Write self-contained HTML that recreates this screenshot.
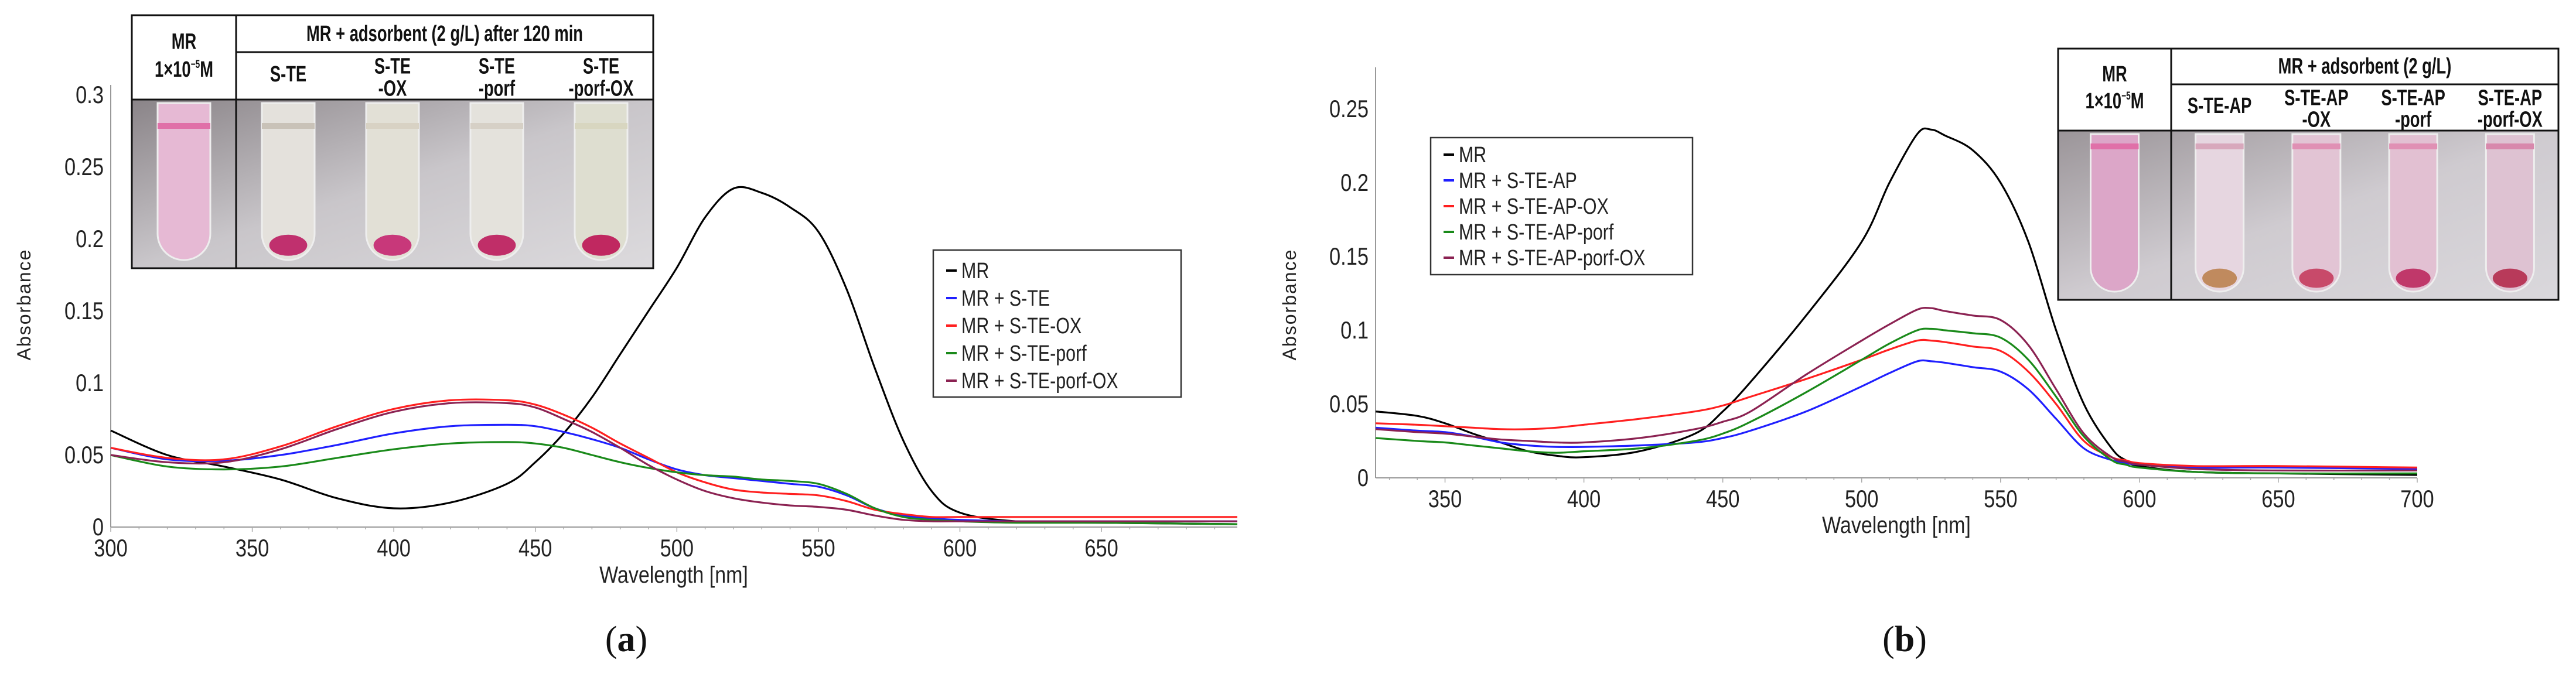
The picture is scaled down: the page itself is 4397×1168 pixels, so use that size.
<!DOCTYPE html>
<html><head><meta charset="utf-8"><style>
html,body{margin:0;padding:0;background:#fff;}
svg{display:block;font-family:"Liberation Sans",sans-serif;}
</style></head><body>
<svg id="fig" width="4397" height="1168" viewBox="0 0 4397 1168" xmlns="http://www.w3.org/2000/svg">
<defs>
<linearGradient id="bgA" x1="0" y1="0" x2="1" y2="1"><stop offset="0" stop-color="#8a8488"/><stop offset="0.5" stop-color="#c9c6ca"/><stop offset="1" stop-color="#dcdadd"/></linearGradient>
<linearGradient id="bgB" x1="0" y1="0" x2="1" y2="1"><stop offset="0" stop-color="#9b9599"/><stop offset="0.5" stop-color="#cfcbd0"/><stop offset="1" stop-color="#dad8dc"/></linearGradient>
</defs>
<g id="panelA"></g>
<g id="panelB"></g>
</svg>
<script>
// ---------- Panel (a) data ----------
const aWl = [300,320,340,360,380,400,420,440,450,460,470,480,490,500,510,520,530,540,550,560,570,580,590,600,620,650,698];
const aMR = [0.067,0.050,0.042,0.033,0.020,0.013,0.017,0.030,0.045,0.065,0.090,0.120,0.150,0.180,0.215,0.235,0.232,0.222,0.205,0.165,0.110,0.060,0.025,0.010,0.004,0.003,0.002];
const aSTE = [0.055,0.047,0.046,0.050,0.057,0.065,0.070,0.071,0.070,0.066,0.061,0.055,0.047,0.040,0.036,0.034,0.032,0.030,0.028,0.022,0.013,0.008,0.006,0.005,0.004,0.004,0.004];
const aSTEOX = [0.055,0.048,0.047,0.056,0.070,0.082,0.088,0.088,0.085,0.078,0.069,0.058,0.048,0.038,0.031,0.026,0.024,0.023,0.022,0.018,0.012,0.009,0.007,0.007,0.007,0.007,0.007];
const aSTEporf = [0.050,0.042,0.040,0.042,0.048,0.054,0.058,0.059,0.058,0.055,0.050,0.045,0.041,0.038,0.036,0.035,0.033,0.032,0.030,0.023,0.013,0.007,0.005,0.004,0.003,0.003,0.002];
const aSTEporfOX = [0.050,0.045,0.045,0.054,0.068,0.080,0.086,0.086,0.083,0.075,0.066,0.055,0.043,0.033,0.025,0.020,0.017,0.015,0.014,0.012,0.008,0.005,0.004,0.004,0.004,0.004,0.004];
const aXTicks = [300,350,400,450,500,550,600,650];
const aYTicks = [0,0.05,0.1,0.15,0.2,0.25,0.3];
const aYLabels = ["0","0.05","0.1","0.15","0.2","0.25","0.3"];
const aNames = ["MR","MR + S-TE","MR + S-TE-OX","MR + S-TE-porf","MR + S-TE-porf-OX"];

// ---------- Panel (b) data ----------
const bWl = [325,340,350,360,370,380,390,400,420,440,450,460,480,500,510,520,525,530,540,550,560,570,580,590,595,600,620,650,700];
const bMR = [0.045,0.042,0.037,0.030,0.024,0.018,0.015,0.014,0.018,0.030,0.045,0.065,0.110,0.160,0.200,0.233,0.236,0.232,0.222,0.200,0.160,0.100,0.050,0.020,0.012,0.008,0.004,0.003,0.002];
const bSTEAP = [0.034,0.032,0.031,0.028,0.024,0.022,0.021,0.021,0.022,0.024,0.027,0.032,0.045,0.062,0.071,0.079,0.079,0.078,0.075,0.072,0.060,0.040,0.020,0.012,0.010,0.009,0.007,0.007,0.006];
const bSTEAPOX = [0.037,0.036,0.035,0.034,0.033,0.033,0.034,0.036,0.040,0.045,0.049,0.055,0.067,0.080,0.087,0.093,0.093,0.092,0.089,0.086,0.072,0.050,0.025,0.014,0.012,0.010,0.008,0.008,0.007];
const bSTEAPporf = [0.027,0.025,0.024,0.022,0.020,0.018,0.017,0.018,0.020,0.025,0.030,0.038,0.058,0.080,0.091,0.100,0.101,0.100,0.098,0.095,0.080,0.055,0.028,0.012,0.009,0.007,0.004,0.003,0.003];
const bSTEAPporfOX = [0.033,0.031,0.030,0.028,0.026,0.025,0.024,0.024,0.027,0.033,0.038,0.045,0.070,0.093,0.104,0.114,0.115,0.113,0.110,0.107,0.090,0.060,0.030,0.014,0.011,0.009,0.006,0.005,0.005];
const bXTicks = [350,400,450,500,550,600,650,700];
const bYTicks = [0,0.05,0.1,0.15,0.2,0.25];
const bYLabels = ["0","0.05","0.1","0.15","0.2","0.25"];
const bNames = ["MR","MR + S-TE-AP","MR + S-TE-AP-OX","MR + S-TE-AP-porf","MR + S-TE-AP-porf-OX"];

const colors = ["#000000","#1f1fff","#ff1f1f","#1a8a1a","#8b2252"];
const NS = "http://www.w3.org/2000/svg";
function mk(parent, tag, attrs, text){
  const e = document.createElementNS(NS, tag);
  for (const k in attrs) e.setAttribute(k, attrs[k]);
  if (text !== undefined) e.textContent = text;
  parent.appendChild(e);
  return e;
}
function smoothPath(P){
  let d = 'M' + P[0][0].toFixed(1) + ',' + P[0][1].toFixed(1);
  for (let i = 0; i < P.length - 1; i++){
    const p0 = P[Math.max(0,i-1)], p1 = P[i], p2 = P[i+1], p3 = P[Math.min(P.length-1,i+2)];
    const c1x = p1[0] + (p2[0]-p0[0])/6, c1y = p1[1] + (p2[1]-p0[1])/6;
    const c2x = p2[0] - (p3[0]-p1[0])/6, c2y = p2[1] - (p3[1]-p1[1])/6;
    d += ` C${c1x.toFixed(1)},${c1y.toFixed(1)} ${c2x.toFixed(1)},${c2y.toFixed(1)} ${p2[0].toFixed(1)},${p2[1].toFixed(1)}`;
  }
  return d;
}

function drawPanel(g, cfg){
  const X = v => cfg.x0 + (v - cfg.xmin) / (cfg.xmax - cfg.xmin) * (cfg.x1 - cfg.x0);
  const Y = v => cfg.y0 - v / cfg.ymaxTick * (cfg.y0 - cfg.yTop);
  const ax = mk(g, 'line', {x1:cfg.x0, y1:cfg.y0, x2:cfg.x1, y2:cfg.y0, stroke:'#999', 'stroke-width':2});
  
  
  const ay = mk(g, 'line', {x1:cfg.x0, y1:cfg.axisTop, x2:cfg.x0, y2:cfg.y0, stroke:'#999', 'stroke-width':2});
  
  
  for (let w = Math.ceil(cfg.xmin/10)*10; w <= cfg.xmax; w += 10){
    const t = mk(g, 'line', {x1:X(w), y1:cfg.y0, x2:X(w), y2:cfg.y0 + (w%50===0?8:4), stroke:'#aaa', 'stroke-width':1.5});
    
    
  }
  cfg.xTicks.forEach(v => {
    const t = mk(g, 'text', {x:X(v), y:cfg.y0 + 50, 'font-size':42, 'text-anchor':'middle', fill:'#222', transform:`translate(${X(v)},0) scale(0.82,1) translate(${-X(v)},0)`}, String(v));
    
    
  });
  cfg.yTicks.forEach((v,i) => {
    const t = mk(g, 'text', {x:cfg.x0 - 12, y:Y(v) + 14, 'font-size':42, 'text-anchor':'end', fill:'#222', transform:`translate(${cfg.x0-12},0) scale(0.82,1) translate(${-(cfg.x0-12)},0)`}, cfg.yLabels[i]);
    
    
  });
  const xt = mk(g, 'text', {x:cfg.xTitleX, y:cfg.xTitleY, 'font-size':40, 'text-anchor':'middle', fill:'#222', transform:`translate(${cfg.xTitleX},0) scale(0.85,1) translate(${-cfg.xTitleX},0)`}, 'Wavelength [nm]');
  
  
  const yt = mk(g, 'text', {x:0, y:0, 'font-size':32, 'text-anchor':'middle', fill:'#222', 'letter-spacing':2, transform:`translate(${cfg.yTitleX},${cfg.yTitleY}) rotate(-90)`}, 'Absorbance');
  
  
  cfg.series.forEach((s, i) => {
    const P = cfg.wl.map((w, k) => [X(w), Y(s[k])]);
    const p = mk(g, 'path', {d:smoothPath(P), fill:'none', stroke:colors[i], 'stroke-width':3.2, 'stroke-linejoin':'round'});
    
    
  });
  const L = cfg.legend;
  const lg = mk(g, 'g', {});
  
  
  mk(lg, 'rect', {x:L.x, y:L.y, width:L.w, height:L.h, fill:'#fff', stroke:'#333', 'stroke-width':2.5});
  cfg.names.forEach((n, i) => {
    const yy = L.y + L.first + i * L.step;
    const e = mk(lg, 'g', {});
    
    
    mk(e, 'line', {x1:L.x + 22, y1:yy - 13, x2:L.x + 40, y2:yy - 13, stroke:colors[i], 'stroke-width':4});
    mk(e, 'text', {x:L.x + 48, y:yy, 'font-size':38, fill:'#222', transform:`translate(${L.x+48},0) scale(0.8,1) translate(${-(L.x+48)},0)`}, n);
  });
}

function drawInset(g, c){
  const ig = mk(g, 'g', {});
  
  
  mk(ig, 'rect', {x:c.x0, y:c.y0, width:c.x1-c.x0, height:c.y1-c.y0, fill:'#fff'});
  mk(ig, 'rect', {x:c.x0, y:c.h2, width:c.x1-c.x0, height:c.y1-c.h2, fill:c.bg});
  const cols = [[c.x0, c.div]];
  const cw = (c.x1 - c.div) / 4;
  for (let i = 0; i < 4; i++) cols.push([c.div + i*cw, c.div + (i+1)*cw]);
  cols.forEach((cc, i) => {
    const cx = (cc[0]+cc[1])/2, tw = c.tubeW, top = c.h2 + 6, bot = c.y1 - 14;
    const t = mk(ig, 'g', {});
    
    
    mk(t, 'path', {d:`M${cx-tw/2},${top} L${cx-tw/2},${bot-tw/2} A${tw/2},${tw/2} 0 0 0 ${cx+tw/2},${bot-tw/2} L${cx+tw/2},${top} Z`, fill:c.fills[i], stroke:'#eee', 'stroke-width':3});
    mk(t, 'rect', {x:cx-tw/2, y:top+c.liq-6, width:tw, height:10, fill:c.rim[i]});
    if (c.pellets[i]) mk(t, 'ellipse', {cx:cx, cy:bot-tw*0.28, rx:tw*0.36, ry:tw*0.2, fill:c.pellets[i]});
  });
  const bl = {stroke:'#111', 'stroke-width':3, fill:'none'};
  mk(ig, 'rect', Object.assign({x:c.x0, y:c.y0, width:c.x1-c.x0, height:c.y1-c.y0}, bl));
  mk(ig, 'line', Object.assign({x1:c.div, y1:c.y0, x2:c.div, y2:c.y1}, bl));
  mk(ig, 'line', Object.assign({x1:c.div, y1:c.h1, x2:c.x1, y2:c.h1}, bl));
  mk(ig, 'line', Object.assign({x1:c.x0, y1:c.h2, x2:c.x1, y2:c.h2}, bl));
  const FS = c.fs;
  const tx = (x, y, s) => {
    const t = mk(ig, 'text', {x:x, y:y, 'font-size':FS, 'font-weight':'bold', 'text-anchor':'middle', fill:'#111', transform:`translate(${x},0) scale(0.72,1) translate(${-x},0)`}, s);
    
    
  };
  const mx = (c.x0 + c.div)/2;
  tx(mx, c.y0 + (c.h2-c.y0)*0.4, 'MR');
  const m2 = mk(ig, 'text', {x:mx, y:c.y0 + (c.h2-c.y0)*0.73, 'font-size':FS, 'font-weight':'bold', 'text-anchor':'middle', fill:'#111', transform:`translate(${mx},0) scale(0.72,1) translate(${-mx},0)`});
  
  
  m2.textContent = '1×10';
  mk(m2, 'tspan', {'font-size':FS*0.5, dy:-FS*0.4}, '−5');
  mk(m2, 'tspan', {dy:FS*0.4}, 'M');
  tx((c.div + c.x1)/2, c.y0 + (c.h1-c.y0)*0.7, c.header);
  c.labels.forEach((l, i) => {
    const cx = (cols[i+1][0] + cols[i+1][1]) / 2;
    if (l.length === 1) tx(cx, c.h1 + (c.h2-c.h1)*0.62, l[0]);
    else { tx(cx, c.h1 + (c.h2-c.h1)*0.45, l[0]); tx(cx, c.h1 + (c.h2-c.h1)*0.92, l[1]); }
  });
}

const gA = document.getElementById('panelA');
drawPanel(gA, {x0:189, x1:2112, xmin:300, xmax:698, y0:900, yTop:162, ymaxTick:0.3, axisTop:145,
  xTicks:aXTicks, yTicks:aYTicks, yLabels:aYLabels, xTitleX:1150, xTitleY:995, yTitleX:52, yTitleY:520,
  wl:aWl, series:[aMR,aSTE,aSTEOX,aSTEporf,aSTEporfOX], names:aNames,
  legend:{x:1593, y:427, w:423, h:251, first:48, step:47}});
drawInset(gA, {x0:225, x1:1115, y0:26, y1:458, div:403, h1:89, h2:170, bg:'url(#bgA)', tubeW:90, liq:40, fs:38,
  header:'MR + adsorbent (2 g/L) after 120 min',
  labels:[['S-TE'],['S-TE','-OX'],['S-TE','-porf'],['S-TE','-porf-OX']],
  fills:['#e6b9d4','#e4e1dc','#e2e0d6','#e4e2dc','#deded0'],
  rim:['#e070a8','#c9c2b8','#d8d2c4','#d6d0c6','#d8d6c0'],
  pellets:[null,'#c0306e','#c8387a','#c02e68','#c02860']});

const gB = document.getElementById('panelB');
drawPanel(gB, {x0:2348, x1:4126, xmin:325, xmax:700, y0:816, yTop:186, ymaxTick:0.25, axisTop:115,
  xTicks:bXTicks, yTicks:bYTicks, yLabels:bYLabels, xTitleX:3237, xTitleY:910, yTitleX:2212, yTitleY:520,
  wl:bWl, series:[bMR,bSTEAP,bSTEAPOX,bSTEAPporf,bSTEAPporfOX], names:bNames,
  legend:{x:2442, y:235, w:447, h:234, first:42, step:44}});
drawInset(gB, {x0:3513, x1:4367, y0:83, y1:512, div:3706, h1:144, h2:223, bg:'url(#bgB)', tubeW:82, liq:22, fs:38,
  header:'MR + adsorbent (2 g/L)',
  labels:[['S-TE-AP'],['S-TE-AP','-OX'],['S-TE-AP','-porf'],['S-TE-AP','-porf-OX']],
  fills:['#dca6c8','#e6d6e0','#e2c4d4','#e2c0d2','#dec2d2'],
  rim:['#e070a8','#d8a8bc','#e090b4','#e090b4','#d888ac'],
  pellets:[null,'#c08a5e','#c84a6a','#c0386a','#b83a5a']});

const svg = document.getElementById('fig');
const la = mk(svg, 'text', {x:1069, y:1112, 'font-size':62, 'text-anchor':'middle', 'font-family':'Liberation Serif, serif', fill:'#111'});


mk(la, 'tspan', {}, '(');
mk(la, 'tspan', {'font-weight':'bold'}, 'a');
mk(la, 'tspan', {}, ')');
const lb = mk(svg, 'text', {x:3251, y:1112, 'font-size':62, 'text-anchor':'middle', 'font-family':'Liberation Serif, serif', fill:'#111'});


mk(lb, 'tspan', {}, '(');
mk(lb, 'tspan', {'font-weight':'bold'}, 'b');
mk(lb, 'tspan', {}, ')');
</script>
</body></html>
